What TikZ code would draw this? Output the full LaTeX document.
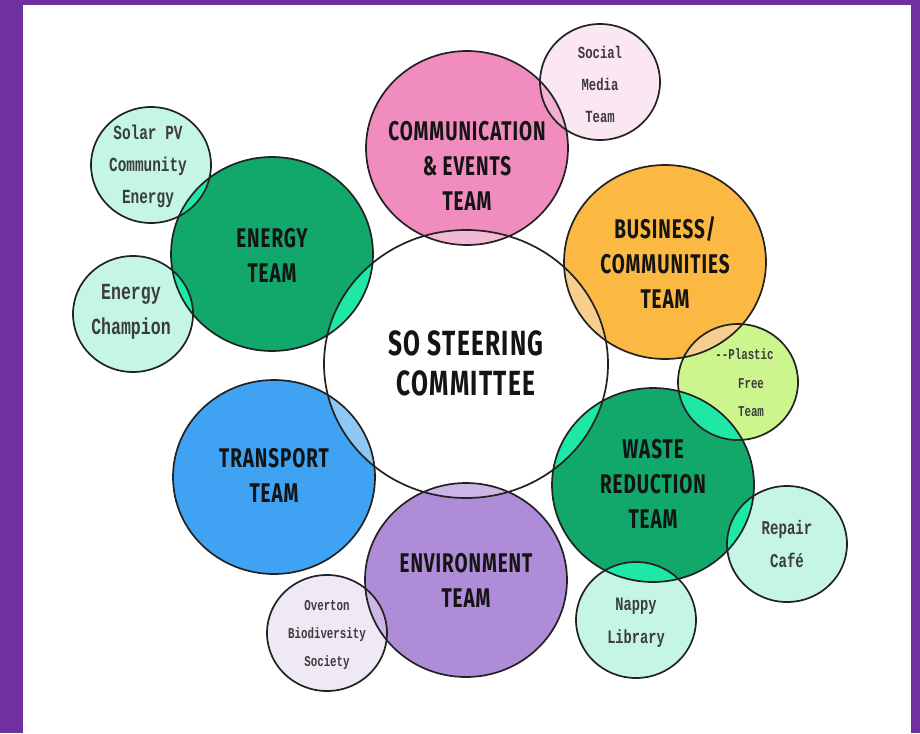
\documentclass[tikz,border=0pt]{standalone}
\usepackage{fontspec}
\newfontfamily\teamfont[FakeStretch=0.7, LetterSpace=3.5]{Fira Sans}
\newfontfamily\smallfont[FakeStretch=0.72]{Liberation Mono}
\definecolor{frame}{HTML}{7030A0}
\definecolor{pinkfill}{HTML}{F08CBE}
\definecolor{pinklens}{HTML}{F4B8D7}
\definecolor{socialfill}{HTML}{FBE7F1}
\definecolor{sociallens}{HTML}{F3B1D2}
\definecolor{greenfill}{HTML}{12A86C}
\definecolor{mint}{HTML}{1FE8A6}
\definecolor{aqua}{HTML}{C4F5E6}
\definecolor{orangefill}{HTML}{FBB843}
\definecolor{orangelens}{HTML}{F6CF8F}
\definecolor{limefill}{HTML}{CDF58E}
\definecolor{bluefill}{HTML}{3FA2F2}
\definecolor{bluelens}{HTML}{8DC7F3}
\definecolor{violetfill}{HTML}{AE8CD8}
\definecolor{violetlens}{HTML}{CBB6E6}
\definecolor{overtonfill}{HTML}{EEE9F5}
\definecolor{edge}{HTML}{222222}
\definecolor{teamtext}{HTML}{141414}
\definecolor{smalltext}{HTML}{3C3C3C}
\tikzset{
  centr/.style={x radius=142pt, y radius=134pt},
  bigr/.style={x radius=101pt, y radius=97pt},
  smallr/.style={x radius=60pt, y radius=58pt},
  outline/.style={draw=edge, line width=1.7pt},
  teamlbl/.style={align=center, inner sep=0pt, text=teamtext,
    font=\teamfont\bfseries\fontsize{27}{35}\selectfont},
  centrelbl/.style={align=center, inner sep=0pt, text=teamtext,
    font=\teamfont\bfseries\fontsize{35}{40}\selectfont},
  smalllbl/.style={align=center, inner sep=0pt, text=smalltext}
}
\begin{document}
\begin{tikzpicture}[x=1pt, y=-1pt]
\useasboundingbox (0,0) rectangle (920,733);
\fill[frame] (0,0) rectangle (920,733);
\fill[white] (23,5) rectangle (911,733);
% centres
\coordinate (C) at (466,364);
\coordinate (P) at (467,148);
\coordinate (S) at (600,82);
\coordinate (B) at (665,262);
\coordinate (PF) at (738,382);
\coordinate (W) at (653,485);
\coordinate (R) at (787,544);
\coordinate (N) at (636,620);
\coordinate (E) at (466,580);
\coordinate (O) at (327,633);
\coordinate (T) at (274,477);
\coordinate (G) at (272,254);
\coordinate (SP) at (151,165);
\coordinate (EC) at (133,314);
% fills
\fill[white] (C) circle[centr];
\fill[pinkfill] (P) circle[bigr];
\fill[socialfill] (S) circle[smallr];
\fill[orangefill] (B) circle[bigr];
\fill[limefill] (PF) circle[smallr];
\fill[greenfill] (W) circle[bigr];
\fill[aqua] (R) circle[smallr];
\fill[aqua] (N) circle[smallr];
\fill[violetfill] (E) circle[bigr];
\fill[overtonfill] (O) circle[smallr];
\fill[bluefill] (T) circle[bigr];
\fill[greenfill] (G) circle[bigr];
\fill[aqua] (SP) circle[smallr];
\fill[aqua] (EC) circle[smallr];
% lenses with the centre
\begin{scope}
  \clip (C) circle[centr];
  \fill[pinklens] (P) circle[bigr];
  \fill[orangelens] (B) circle[bigr];
  \fill[mint] (W) circle[bigr];
  \fill[violetlens] (E) circle[bigr];
  \fill[bluelens] (T) circle[bigr];
  \fill[mint] (G) circle[bigr];
\end{scope}
\begin{scope}
  \clip (P) circle[bigr];
  \fill[sociallens] (S) circle[smallr];
\end{scope}
\begin{scope}
  \clip (B) circle[bigr];
  \fill[orangelens] (PF) circle[smallr];
\end{scope}
\begin{scope}
  \clip (W) circle[bigr];
  \fill[mint] (PF) circle[smallr];
  \fill[mint] (R) circle[smallr];
  \fill[mint] (N) circle[smallr];
\end{scope}
\begin{scope}
  \clip (G) circle[bigr];
  \fill[mint] (SP) circle[smallr];
  \fill[mint] (EC) circle[smallr];
\end{scope}
\begin{scope}
  \clip (E) circle[bigr];
  \fill[violetlens] (O) circle[smallr];
\end{scope}
% outlines
\draw[outline] (C) circle[centr];
\draw[outline] (P) circle[bigr];
\draw[outline] (S) circle[smallr];
\draw[outline] (B) circle[bigr];
\draw[outline] (PF) circle[smallr];
\draw[outline] (W) circle[bigr];
\draw[outline] (R) circle[smallr];
\draw[outline] (N) circle[smallr];
\draw[outline] (E) circle[bigr];
\draw[outline] (O) circle[smallr];
\draw[outline] (T) circle[bigr];
\draw[outline] (G) circle[bigr];
\draw[outline] (SP) circle[smallr];
\draw[outline] (EC) circle[smallr];
% labels
\node[centrelbl] (Clbl) at (466,363) {SO STEERING\\COMMITTEE};
\node[teamlbl] (Plbl) at (467,166) {COMMUNICATION\\\& EVENTS\\TEAM};
\node[teamlbl] (Blbl) at (665,262) {BUSINESS/\\COMMUNITIES\\TEAM};
\node[teamlbl] (Wlbl) at (653,484) {WASTE\\REDUCTION\\TEAM};
\node[teamlbl] (Elbl) at (466,580) {ENVIRONMENT\\TEAM};
\node[teamlbl] (Tlbl) at (274,475) {TRANSPORT\\TEAM};
\node[teamlbl] (Glbl) at (272,255) {ENERGY\\TEAM};
\node[smalllbl, font=\smallfont\bfseries\fontsize{20}{32}\selectfont] (SPlbl) at (148,166) {Solar PV\\Community\\Energy};
\node[smalllbl, font=\smallfont\bfseries\fontsize{23}{35}\selectfont] (EClbl) at (131,312) {Energy\\Champion};
\node[smalllbl, font=\smallfont\bfseries\fontsize{17}{32}\selectfont] (Slbl) at (600,84) {Social\\Media\\Team};
\node[smalllbl, font=\smallfont\bfseries\fontsize{15}{28.5}\selectfont] (PFlbl) at (751,383) {\llap{{-}{-}}Plastic\\Free\\Team};
\node[smalllbl, font=\smallfont\bfseries\fontsize{19.5}{33}\selectfont] (Rlbl) at (787,544) {Repair\\Café};
\node[smalllbl, font=\smallfont\bfseries\fontsize{19}{33}\selectfont] (Nlbl) at (636,623) {Nappy\\Library};
\node[smalllbl, font=\smallfont\bfseries\fontsize{15}{28}\selectfont] (Olbl) at (327,635) {Overton\\Biodiversity\\Society};
\end{tikzpicture}
\end{document}
